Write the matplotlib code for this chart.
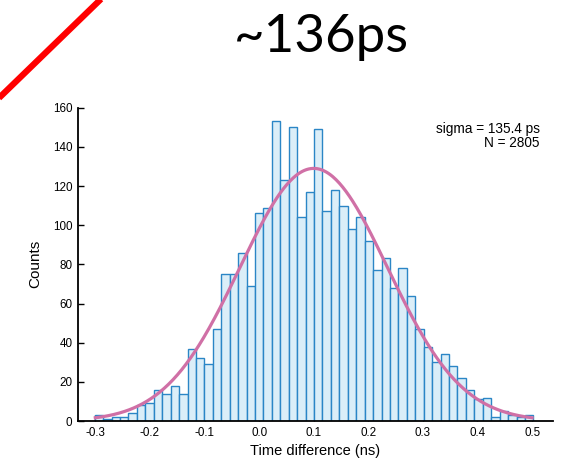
import numpy as np
import matplotlib
matplotlib.use("Agg")
import matplotlib.pyplot as plt
from matplotlib.lines import Line2D

# Histogram of timing differences (counts per bin)
counts = [3, 1, 2, 2, 4, 8, 9, 16, 14, 18, 14,
          37, 32, 29, 47, 75, 75, 86, 69, 106, 109,
          153, 123, 150, 104, 117, 149, 107, 118, 110, 98,
          104, 92, 77, 83, 68, 78, 64, 47, 38, 30,
          34, 28, 22, 16, 11, 12, 2, 5, 3, 2, 3]
bin_lo, bin_hi = -0.3011, 0.5024

# Gaussian fit parameters
fit_mu = 0.100
fit_sigma = 0.1354
fit_amp = 129.0
n_events = 2805

xticks = [-0.3, -0.2, -0.1, 0.0, 0.1, 0.2, 0.3, 0.4, 0.5]
yticks = [0, 20, 40, 60, 80, 100, 120, 140, 160]

plt.rcParams['font.family'] = ['Liberation Sans', 'DejaVu Sans']

W, H = 571, 462
fig = plt.figure(figsize=(W / 100, H / 100), dpi=100)
ax = fig.add_axes([78 / W, 1 - 421 / H, (553 - 78) / W, (421 - 107.7) / H])

edges = np.linspace(bin_lo, bin_hi, len(counts) + 1)
ax.bar(edges[:-1], counts, width=np.diff(edges), align='edge',
       color='#dbeef8', edgecolor='#2b86c6', linewidth=1.0, zorder=2)

xs = np.linspace(-0.3, 0.5, 400)
ys = fit_amp * np.exp(-(xs - fit_mu) ** 2 / (2 * fit_sigma ** 2))
ax.plot(xs, ys, color='#d070a6', linewidth=2.3, zorder=3)

ax.set_xlim(-0.3317, 0.5383)
ax.set_ylim(0, 160)
ax.set_xticks(xticks)
ax.set_xticklabels([f"{t:.1f}".replace('\u2212', '-') for t in xticks])
ax.set_yticks(yticks)
ax.tick_params(direction='in', length=4, width=1.0, color='black',
               labelsize=8.4, pad=4)
for side in ('top', 'right'):
    ax.spines[side].set_visible(False)
for side in ('left', 'bottom'):
    ax.spines[side].set_linewidth(1.3)
    ax.spines[side].set_color('black')

ax.set_xlabel('Time difference (ns)', fontsize=10.5, labelpad=4)
ax.set_ylabel('Counts', fontsize=11, labelpad=8)

fig.text(540 / W, 1 - 129 / H, f'sigma = {fit_sigma * 1000:.1f} ps',
         ha='right', va='center', fontsize=9.8)
fig.text(540 / W, 1 - 143 / H, f'N = {n_events}',
         ha='right', va='center', fontsize=9.8)

fig.text(321.5 / W, 1 - 52 / H, '~136ps', ha='center', va='baseline',
         fontsize=38, family=['Lato', 'DejaVu Sans'], fontweight='normal',
         color='black')

fig.add_artist(Line2D([-10 / W, 110 / W], [1 - 106.7 / H, 1 + 9.7 / H],
                      transform=fig.transFigure, color='#ff0000',
                      linewidth=4.5, solid_capstyle='butt'))

fig.savefig('out.png', dpi=100)
